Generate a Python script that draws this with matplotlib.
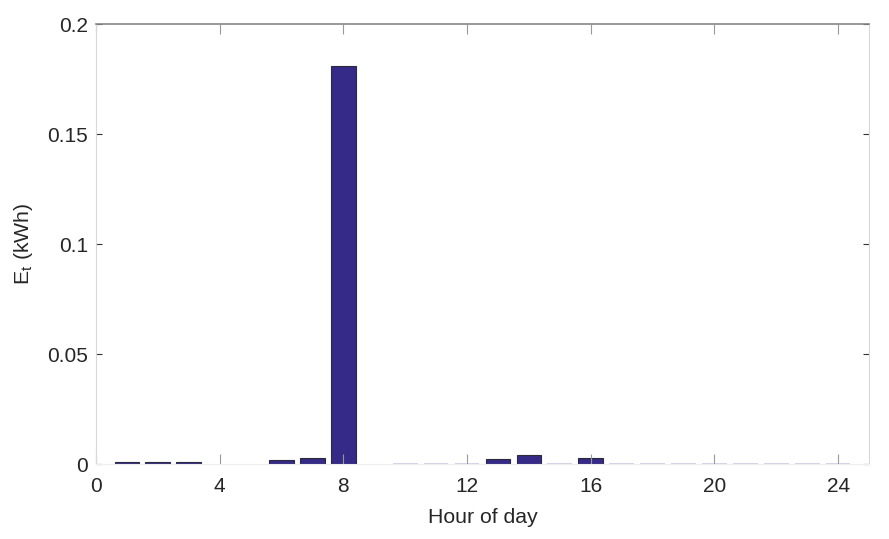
import matplotlib
matplotlib.use("Agg")
import matplotlib.pyplot as plt
import numpy as np

hours = list(range(1, 25))
energy_kwh = [0.0008, 0.0008, 0.0008, 0.0, 0.0, 0.0017, 0.0027, 0.181,
              0.0, 0.0003, 0.0003, 0.0003, 0.0025, 0.004, 0.0003, 0.0027,
              0.0003, 0.0003, 0.0003, 0.0003, 0.0003, 0.0003, 0.0003, 0.0003]
x_ticks = [0, 4, 8, 12, 16, 20, 24]
y_ticks = [0, 0.05, 0.1, 0.15, 0.2]
y_tick_labels = ["0", "0.05", "0.1", "0.15", "0.2"]

plt.rcParams['font.family'] = ['Liberation Sans', 'DejaVu Sans']

fig = plt.figure(figsize=(8.89, 5.39), dpi=100)
ax = fig.add_axes([96/889, 1-464/539, (869-96)/889, (464-24)/539])

big = [v >= 0.0005 for v in energy_kwh]
faces = ['#352a87' if b else '#d4d2e8' for b in big]
edges = ['#2a2a3a' if b else 'none' for b in big]
ax.bar(hours, energy_kwh, width=0.8, color=faces, edgecolor=edges, linewidth=0.8)

ax.set_xlim(0, 25)
ax.set_ylim(0, 0.2)
ax.set_xticks(x_ticks)
ax.set_yticks(y_ticks)
ax.set_yticklabels(y_tick_labels)

ax.tick_params(axis='x', direction='in', length=7, width=0.8, color='#999999',
               labelsize=15, labelcolor='#262626', top=True, pad=9.4)
ax.tick_params(axis='y', direction='in', length=4, width=0.8, color='#333333',
               labelsize=15, labelcolor='#262626', right=True, pad=5.8)

ax.spines['top'].set_color('#888888')
ax.spines['top'].set_linewidth(1.2)
ax.spines['left'].set_color('#d8d8d8')
ax.spines['right'].set_color('#d8d8d8')
ax.spines['bottom'].set_color('#eeeeee')

ax.set_xlabel('Hour of day', fontsize=15.3, color='#262626', labelpad=8.3)
ax.set_ylabel(r'E$_{\mathregular{t}}$ (kWh)', fontsize=15.3, color='#262626', labelpad=9)

fig.savefig('out.png', dpi=100)
